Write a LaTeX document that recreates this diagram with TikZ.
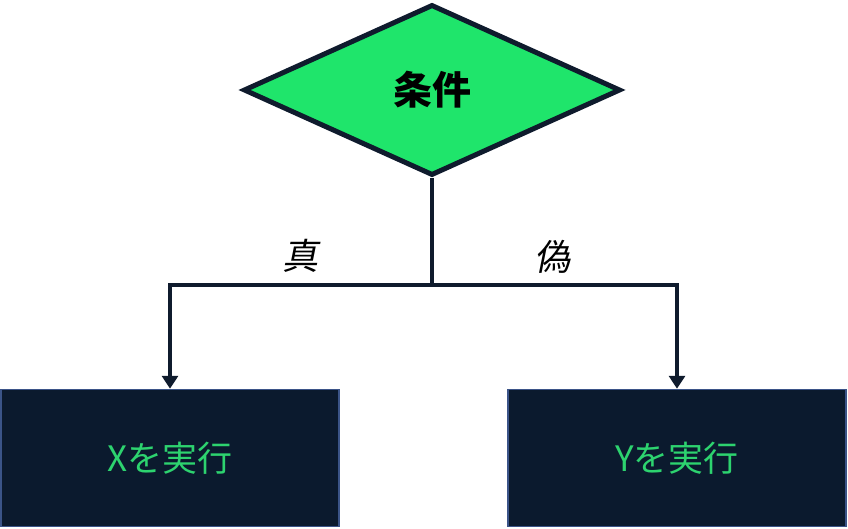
\documentclass[tikz,border=0pt]{standalone}
\usepackage{fontspec}
\newfontfamily\cjk{Noto Sans CJK JP}
\newfontfamily\cjkslant[FakeSlant=0.2]{Noto Sans CJK JP}
\usetikzlibrary{shapes.geometric,arrows.meta}
\definecolor{navy}{HTML}{0F1B2D}
\definecolor{boxfill}{HTML}{0B1A2E}
\definecolor{boxline}{HTML}{3B5488}
\definecolor{condgreen}{HTML}{1FE56B}
\definecolor{textgreen}{HTML}{2DD36F}
\tikzset{
	cond/.style={diamond,draw=navy,fill=condgreen,line width=5pt,inner sep=0pt,minimum width=377pt,minimum height=171pt,font=\cjk\bfseries\fontsize{39}{42}\selectfont},
	actbox/.style={rectangle,draw=boxline,fill=boxfill,line width=1.5pt,minimum width=338pt,minimum height=137pt,text=textgreen,font=\cjk\fontsize{35}{40}\selectfont},
	flow/.style={draw=navy,line width=4.5pt},
	arr/.style={flow,-{Triangle[length=13pt,width=16pt]}},
	branch/.style={font=\cjkslant\fontsize{36}{40}\selectfont}
}
\begin{document}
\begin{tikzpicture}[x=1pt,y=-1pt]
	\useasboundingbox (0,0) rectangle (848,529);
	\node[cond] (cond) at (432,90) {条件};
	\coordinate (split) at (432,285);
	\node[actbox] (xbox) at (170,458) {Xを実行};
	\node[actbox] (ybox) at (677,458) {Yを実行};
	\draw[flow] (cond.south) -- (split);
	\draw[arr] (split) -| (xbox.north);
	\draw[arr] (split) -| (ybox.north);
	\node[branch] (yes) at (300,256) {真};
	\node[branch] (no) at (552,257) {偽};
\end{tikzpicture}
\end{document}
